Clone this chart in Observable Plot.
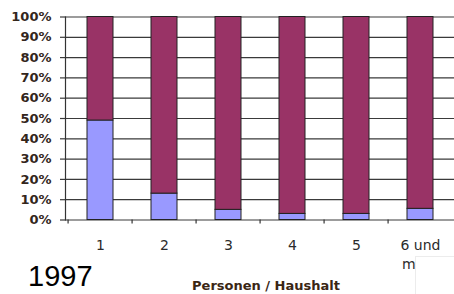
<!DOCTYPE html>
<html>
<head>
<meta charset="utf-8">
<script src="https://cdn.jsdelivr.net/npm/d3@7"></script>
<script src="https://cdn.jsdelivr.net/npm/@observablehq/plot@0.6"></script>
<style>
  html, body { margin: 0; padding: 0; background: #fff; }
  #wrap { position: relative; width: 454px; height: 294px; overflow: hidden; }
  #year { position: absolute; left: 28px; top: 262px; font: 29px/29px "Liberation Sans", Arial, sans-serif; color: #000; }
  #mask { position: absolute; left: 415px; top: 256px; width: 45px; height: 45px; background: #fff; border-left: 1px solid #ececec; border-top: 1px solid #ececec; }
</style>
</head>
<body>
<div id="wrap"></div>
<script>
// Data
const categories = ["1", "2", "3", "4", "5", "6 und mehr"];
const series = ["Reihe 1", "Reihe 2"];
const reihe1 = [49, 13, 5, 3, 3, 5.5];      // lower (blue) segments, %
const reihe2 = [51, 87, 95, 97, 97, 94.5];  // upper (maroon) segments, %
const yTicks = [0, 10, 20, 30, 40, 50, 60, 70, 80, 90, 100];
const xTitle = "Personen / Haushalt";
const yearLabel = "1997";

const rows = [];
categories.forEach((c, i) => {
  rows.push({cat: c, series: series[0], value: reihe1[i]});
  rows.push({cat: c, series: series[1], value: reihe2[i]});
});

const W = 454, H = 294, ML = 65, MR = 0, MT = 16.5, MB = 74.5;
const step = (W - ML - MR) / categories.length;

const chart = Plot.plot({
  width: W,
  height: H,
  marginLeft: ML,
  marginRight: MR,
  marginTop: MT,
  marginBottom: MB,
  style: {background: "#fff", overflow: "visible"},
  x: {domain: categories, paddingInner: 0.6, paddingOuter: 0.3, label: null},
  y: {domain: [0, 100], label: null},
  color: {domain: series, range: ["#9999ff", "#993366"]},
  marks: [
    Plot.gridY(yTicks, {stroke: "#3a3a3a", strokeOpacity: 1, strokeWidth: 1.2}),
    Plot.axisY(yTicks, {
      tickSize: 5, tickPadding: 9, stroke: "#3a3a3a", strokeWidth: 1.2,
      tickFormat: d => d + "%",
      fontFamily: "DejaVu Sans", fontSize: 13, fontWeight: "bold", fill: "#33261c",
      label: null
    }),
    Plot.frame({anchor: "left", stroke: "#333", strokeWidth: 1.2}),
    Plot.ruleX(categories, {x: d => d, dx: -step / 2, y1: 0, y2: 0, insetBottom: -4, stroke: "#333", strokeWidth: 1.2}),
    Plot.barY(rows, Plot.stackY({
      x: "cat", y: "value", fill: "series", z: "series", order: series,
      stroke: "#222", strokeWidth: 1
    })),
    Plot.axisX({
      tickSize: 0, tickPadding: 17,
      tickFormat: d => d === "6 und mehr" ? "6 und\nmehr" : d,
      lineHeight: 1.33,
      fontFamily: "DejaVu Sans", fontSize: 14, fill: "#2b2b2b",
      label: null
    }),
    Plot.text([xTitle], {
      frameAnchor: "bottom", lineAnchor: "bottom", dy: 69.5, dx: 6,
      fontFamily: "DejaVu Sans", fontSize: 13, fontWeight: "bold", fill: "#3a2614"
    })
  ]
});

const wrap = document.getElementById("wrap");
wrap.appendChild(chart);
const mask = document.createElement("div");
mask.id = "mask";
wrap.appendChild(mask);
const yr = document.createElement("div");
yr.id = "year";
yr.textContent = yearLabel;
wrap.appendChild(yr);
</script>
</body>
</html>
